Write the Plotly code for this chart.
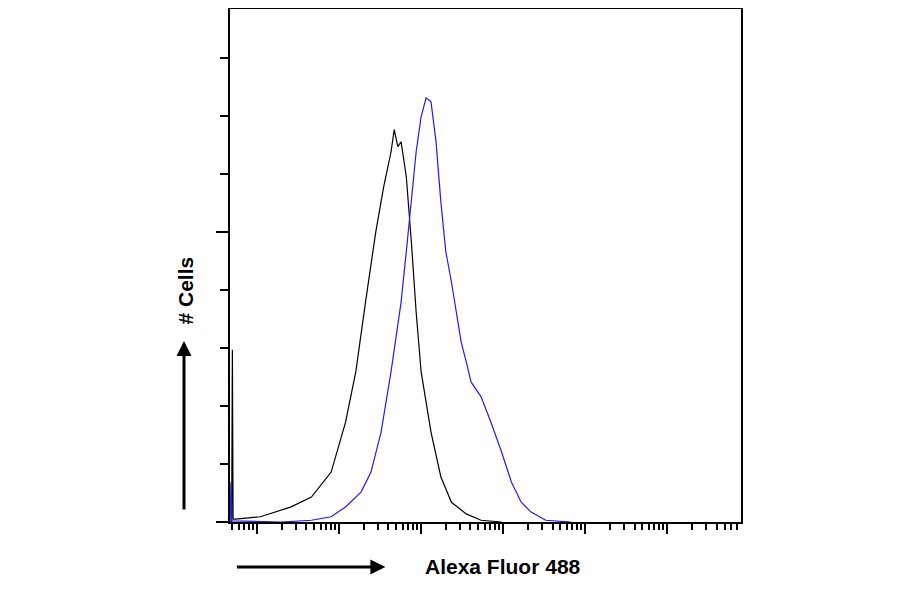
import plotly.graph_objects as go

# fluorescence intensity (log axis) and cell counts
control_x = [0.49, 0.5, 0.51, 0.55, 1.1, 2.6, 4.6, 8, 12, 16, 21, 28, 35, 43, 47, 52, 57, 66, 76,
             87, 100, 132, 174, 234, 355, 537, 955]
control_y = [0, 297, 5, 5, 9, 26, 43, 86, 172, 259, 379, 500, 578, 638, 676, 647, 655, 595, 483,
             362, 259, 155, 78, 34, 14, 3, 0]

stained_x = [0.47, 0.48, 0.49, 1.95, 4.6, 8, 12, 18.6, 24.5, 32.5, 43, 57, 66, 76, 87, 100, 115,
             132, 152, 174, 200, 234, 268, 308, 355, 407, 537, 710, 955, 1260, 1660, 2190, 3310, 6760]
stained_y = [0, 69, 2, 0, 3, 9, 26, 52, 86, 155, 259, 379, 466, 552, 638, 698, 731,
             724, 655, 552, 466, 414, 362, 310, 276, 241, 216, 172, 121, 69, 34, 17, 3, 0]

fig = go.Figure()
fig.add_trace(go.Scatter(x=control_x, y=control_y, mode='lines',
                         line=dict(color='black', width=1.2)))
fig.add_trace(go.Scatter(x=stained_x, y=stained_y, mode='lines',
                         line=dict(color='rgb(30, 30, 230)', width=1.2)))

label_font = dict(family='Liberation Sans', size=21, color='black')

fig.update_layout(
    width=900, height=594, showlegend=False,
    paper_bgcolor='white', plot_bgcolor='white',
    margin=dict(l=222, r=167, t=1, b=80, autoexpand=False),
    xaxis=dict(type='log', range=[-0.33, 5.9], dtick=1, showticklabels=False,
               ticks='outside', ticklen=10, tickwidth=2, tickcolor='black',
               minor=dict(ticks='outside', ticklen=6, tickwidth=2, tickcolor='black'),
               showline=True, linecolor='black', linewidth=2, mirror=True,
               showgrid=False, zeroline=False),
    yaxis=dict(range=[0, 884], dtick=500, showticklabels=False,
               ticks='outside', ticklen=12, tickwidth=2, tickcolor='black',
               minor=dict(dtick=100, ticks='outside', ticklen=8, tickwidth=2, tickcolor='black'),
               showline=True, linecolor='black', linewidth=2, mirror=True,
               showgrid=False, zeroline=False),
)

# x label with arrow
fig.add_annotation(xref='paper', yref='paper', x=(385 - 229) / 513, y=-45 / 513,
                   ax=-150, ay=0, text='', showarrow=True, arrowhead=2, arrowsize=1,
                   arrowwidth=3, arrowcolor='black')
fig.add_annotation(xref='paper', yref='paper', x=(502 - 229) / 511, y=-58 / 513,
                   text='<b>Alexa Fluor 488</b>', showarrow=False, font=label_font)
# y label with arrow
fig.add_annotation(xref='paper', yref='paper', x=(183 - 229) / 511, y=(521 - 340) / 513,
                   ax=0, ay=170, text='', showarrow=True, arrowhead=2, arrowsize=1,
                   arrowwidth=3, arrowcolor='black')
fig.add_annotation(xref='paper', yref='paper', x=(170 - 229) / 511, y=(521 - 290) / 513,
                   text='<b># Cells</b>', showarrow=False, textangle=-90, font=label_font)

fig.write_html('out.html')
